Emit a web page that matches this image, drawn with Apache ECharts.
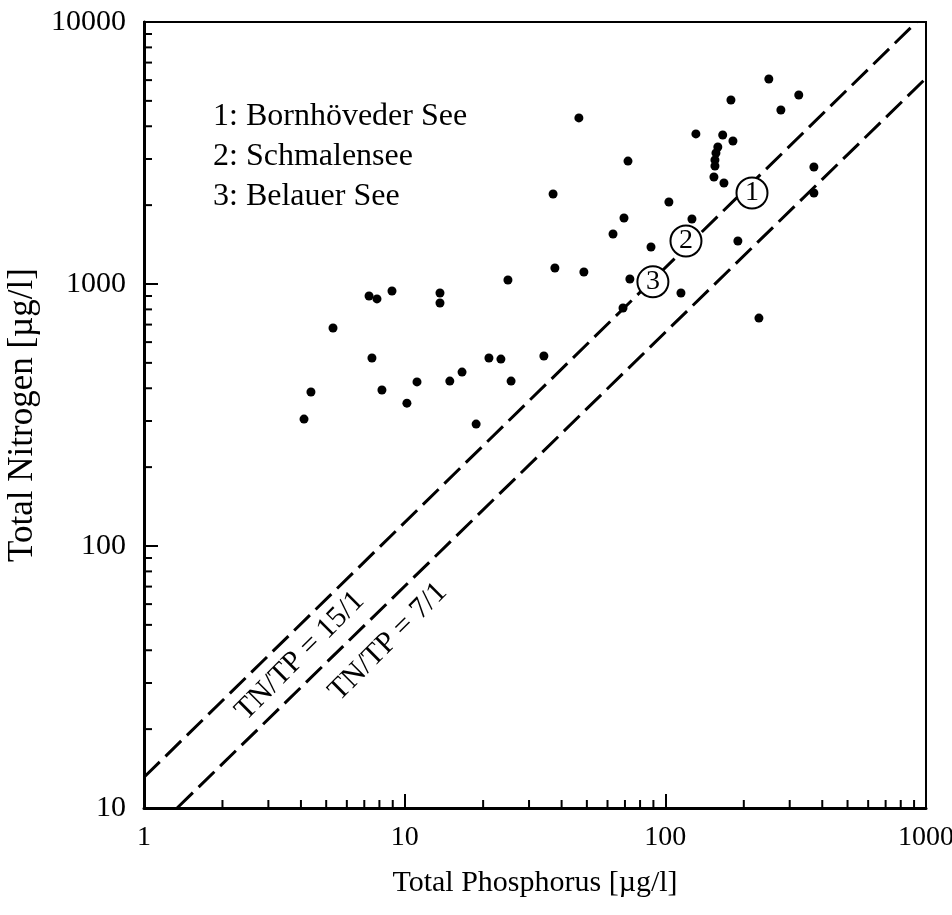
<!DOCTYPE html>
<html><head><meta charset="utf-8">
<script src="https://cdn.jsdelivr.net/npm/echarts/dist/echarts.min.js"></script>
<style>html,body{margin:0;padding:0;background:#fff}#c{width:952px;height:915px}</style>
</head><body><div id="c"></div>
<script>
// Lake samples: total phosphorus (x) and total nitrogen (y), µg/l
const phosphorus = [249.5,178.5,325,277.5,46.6,131,166,181.7,159,156.4,155,155,153.6,167.8,71.9,371.5,371.5,37.1,103.2,69.4,126.5,63,189.8,88.1,37.7,48.7,24.9,73.1,114.8,68.8,228.6,7.3,7.83,8.94,13.66,13.66,5.31,7.49,21.05,23.4,34.2,16.6,14.9,11.15,8.18,25.6,4.37,10.2,4.11,18.8];
const nitrogen = [6060,5040,5265,4615,4305,3740,3705,3515,3335,3162,2975,2820,2560,2430,2945,2797,2225,2206,2056,1786,1770,1552,1459,1384,1151,1111,1036,1045,924,810,741,900,877,940,924,846,679,522,522,517,531,461,426,423,394,426,387,351,305,292];
// Marked lakes
const lakeIds = ['1','2','3'];
const lakeP = [215,120,89.6];
const lakeN = [2225,1459,1019];
const legendLines = ['1: Bornhöveder See','2: Schmalensee','3: Belauer See'];
// Reference ratio lines (endpoints as drawn)
const ratio15Line = [[1,13.1],[920,10000]];
const ratio7Line = [[1.34,10],[1000,6100]];
const ratio15Label = 'TN/TP = 15/1';
const ratio7Label = 'TN/TP = 7/1';
// Axes
const xTickLabels = ['1','10','100','1000'];
const yTickLabels = ['10','100','1000','10000'];
const xMinorTicks = [2,3,4,5,6,7,8,9,20,30,40,50,60,70,80,90,200,300,400,500,600,700,800,900];
const yMinorTicks = [20,30,40,50,60,70,80,90,200,300,400,500,600,700,800,900,2000,3000,4000,5000,6000,7000,8000,9000];
const xName = 'Total Phosphorus [µg/l]';
const yName = 'Total Nitrogen [µg/l]';

const FONT = 'Liberation Serif';
const X_MIN = 1, X_MAX = 1000, Y_MIN = 10, Y_MAX = 10000;
const chart = echarts.init(document.getElementById('c'));

function tickRenderer(isX){
  return function(params, api){
    const cs = params.coordSys;
    const p = api.coord([api.value(0), api.value(1)]);
    const len = 8;
    if (isX) {
      const y = cs.y + cs.height;
      return {type:'line', shape:{x1:p[0], y1:y, x2:p[0], y2:y-len}, style:{stroke:'#000', lineWidth:2}};
    } else {
      const x = cs.x;
      return {type:'line', shape:{x1:x, y1:p[1], x2:x+len, y2:p[1]}, style:{stroke:'#000', lineWidth:2}};
    }
  };
}

const axisCommon = {
  type:'log', logBase:10,
  axisLine:{show:true, onZero:false, lineStyle:{color:'#000', width:3}},
  axisTick:{show:true, inside:true, length:14, lineStyle:{color:'#000', width:2}},
  minorTick:{show:false},
  splitLine:{show:false},
  nameLocation:'middle'
};

chart.setOption({
  animation:false,
  backgroundColor:'#fff',
  grid:{left:144, top:22, width:782, height:786, show:true, borderColor:'#000', borderWidth:2, containLabel:false, outerBoundsMode:'none'},
  xAxis:Object.assign({}, axisCommon, {
    min:X_MIN, max:X_MAX,
    name:xName, nameGap:60,
    nameTextStyle:{color:'#000', fontFamily:FONT, fontSize:30},
    axisLabel:{color:'#000', fontFamily:FONT, fontSize:28, margin:16,
      formatter:(v)=>xTickLabels[Math.round(Math.log10(v))]}
  }),
  yAxis:Object.assign({}, axisCommon, {
    min:Y_MIN, max:Y_MAX,
    name:yName, nameGap:100,
    nameTextStyle:{color:'#000', fontFamily:FONT, fontSize:35},
    axisLabel:{color:'#000', fontFamily:FONT, fontSize:30, margin:18,
      formatter:(v)=>yTickLabels[Math.round(Math.log10(v))-1]}
  }),
  series:[
    {type:'line', data:ratio15Line, symbol:'none', lineStyle:{color:'#000', width:3, type:[22,8]}, z:2},
    {type:'line', data:ratio7Line, symbol:'none', lineStyle:{color:'#000', width:3, type:[22,8]}, z:2},
    {type:'scatter', data:phosphorus.map((p,i)=>[p, nitrogen[i]]), symbol:'circle', symbolSize:9,
      itemStyle:{color:'#000', opacity:1}, z:3},
    {type:'scatter', data:lakeIds.map((id,i)=>({value:[lakeP[i], lakeN[i]], name:id})), symbol:'circle', symbolSize:31,
      itemStyle:{color:'#fff', borderColor:'#000', borderWidth:2, opacity:1},
      label:{show:true, position:'inside', formatter:(p)=>p.name, color:'#000', textBorderWidth:0, fontFamily:FONT, fontSize:28},
      z:4},
    {type:'custom', data:xMinorTicks.map(v=>[v, Y_MIN]), renderItem:tickRenderer(true), z:5, silent:true},
    {type:'custom', data:yMinorTicks.map(v=>[X_MIN, v]), renderItem:tickRenderer(false), z:5, silent:true}
  ],
  graphic:[
    {type:'text', left:213, top:97, style:{text:legendLines.join('\n'), fill:'#000', font:'32px "Liberation Serif"', lineHeight:40}},
    {type:'text', x:300, y:656, rotation:Math.PI/4, style:{text:ratio15Label, fill:'#000', font:'30px "Liberation Serif"', align:'center', verticalAlign:'middle'}},
    {type:'text', x:388, y:642, rotation:Math.PI/4, style:{text:ratio7Label, fill:'#000', font:'30px "Liberation Serif"', align:'center', verticalAlign:'middle'}}
  ]
});
</script>
</body></html>
